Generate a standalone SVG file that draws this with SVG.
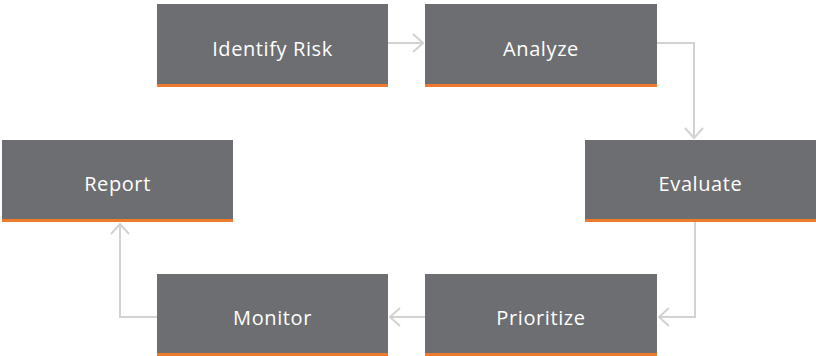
<svg xmlns="http://www.w3.org/2000/svg" width="816" height="356" viewBox="0 0 816 356">
<defs>
<style>
.box{fill:#6d6e71}
.bar{fill:#f07a2b}
.lbl{font-family:"Open Sans",Lato,"Liberation Sans",sans-serif;font-size:20px;font-weight:500;letter-spacing:0.6px;fill:#ffffff;text-anchor:middle}
.con{fill:none;stroke:#d2d2d2;stroke-width:2}
</style>
<marker id="arr" viewBox="0 0 12 20" refX="11" refY="10" markerWidth="12" markerHeight="20" markerUnits="userSpaceOnUse" orient="auto">
<path d="M1,1 L11,10 L1,19" fill="none" stroke="#d2d2d2" stroke-width="2"/>
</marker>
</defs>
<rect width="816" height="356" fill="#ffffff"/>
<g id="connectors">
<path class="con" d="M388,43 L423,43" marker-end="url(#arr)"/>
<path class="con" d="M657,43 L694,43 L694,138" marker-end="url(#arr)"/>
<path class="con" d="M695,222 L695,317 L659,317" marker-end="url(#arr)"/>
<path class="con" d="M425,317 L390,317" marker-end="url(#arr)"/>
<path class="con" d="M157,317 L120,317 L120,224" marker-end="url(#arr)"/>
</g>
<g id="identify-risk">
<rect class="box" x="157" y="4" width="231" height="83"/>
<rect class="bar" x="157" y="84" width="231" height="3"/>
<text class="lbl" x="272.5" y="56">Identify Risk</text>
</g>
<g id="analyze">
<rect class="box" x="425" y="4" width="232" height="83"/>
<rect class="bar" x="425" y="84" width="232" height="3"/>
<text class="lbl" x="541" y="56">Analyze</text>
</g>
<g id="evaluate">
<rect class="box" x="585" y="140" width="231" height="82"/>
<rect class="bar" x="585" y="219" width="231" height="3"/>
<text class="lbl" x="700.5" y="191">Evaluate</text>
</g>
<g id="report">
<rect class="box" x="2" y="140" width="231" height="82"/>
<rect class="bar" x="2" y="219" width="231" height="3"/>
<text class="lbl" x="117.5" y="191">Report</text>
</g>
<g id="prioritize">
<rect class="box" x="425" y="274" width="232" height="82"/>
<rect class="bar" x="425" y="353" width="232" height="3"/>
<text class="lbl" x="541" y="325">Prioritize</text>
</g>
<g id="monitor">
<rect class="box" x="157" y="274" width="231" height="82"/>
<rect class="bar" x="157" y="353" width="231" height="3"/>
<text class="lbl" x="272.5" y="325">Monitor</text>
</g>
</svg>
